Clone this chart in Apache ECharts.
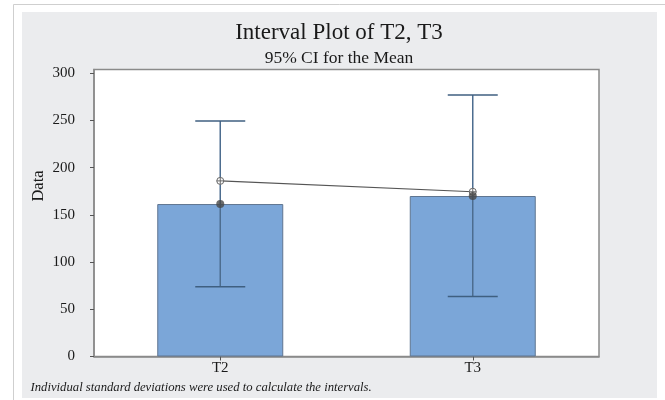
<!DOCTYPE html>
<html>
<head>
<meta charset="utf-8">
<script src="https://cdn.jsdelivr.net/npm/echarts@6/dist/echarts.min.js"></script>
<style>
html,body{margin:0;padding:0;background:#fff;}
#chart{width:665px;height:400px;}
</style>
</head>
<body>
<div id="chart"></div>
<script>
// ---- data ----
var categories = ['T2', 'T3'];
var means = [161.5, 170];
var ciLower = [74, 63.5];
var ciUpper = [249.5, 277];
var linkedValues = [186, 174.5];
var yTicks = [0, 50, 100, 150, 200, 250, 300];

var titleText = 'Interval Plot of T2, T3';
var subtitleText = '95% CI for the Mean';
var yName = 'Data';
var footnote = 'Individual standard deviations were used to calculate the intervals.';

var serif = '"Liberation Serif", "DejaVu Serif", serif';

var errData = categories.map(function (c, i) { return [i, ciLower[i], ciUpper[i]]; });
var linkData = categories.map(function (c, i) { return [i, linkedValues[i]]; });

var chart = echarts.init(document.getElementById('chart'), null, {renderer: 'canvas'});
chart.setOption({
  backgroundColor: '#ffffff',
  animation: false,
  title: {
    text: titleText,
    subtext: subtitleText,
    left: 334,
    textAlign: 'center',
    top: 16,
    itemGap: 5,
    textStyle: {fontFamily: serif, fontSize: 23, fontWeight: 'normal', color: '#1a1a1a'},
    subtextStyle: {fontFamily: serif, fontSize: 17.5, color: '#1a1a1a'}
  },
  graphic: [
    {type: 'line', z: -20, shape: {x1: 13.5, y1: 4.5, x2: 665, y2: 4.5}, style: {stroke: '#cfcfcf', lineWidth: 1}},
    {type: 'line', z: -20, shape: {x1: 13.5, y1: 4.5, x2: 13.5, y2: 400}, style: {stroke: '#cfcfcf', lineWidth: 1}},
    {type: 'rect', z: -20, shape: {x: 22, y: 12, width: 635, height: 386}, style: {fill: '#ebecee'}},
    {type: 'text', x: 39, y: 186, rotation: Math.PI / 2,
      style: {text: yName, font: '16.5px ' + serif, fill: '#1a1a1a', align: 'center', verticalAlign: 'middle'}},
    {type: 'text', x: 30.5, y: 387.5,
      style: {text: footnote, font: 'italic 12.7px ' + serif, fill: '#1a1a1a', align: 'left', verticalAlign: 'middle'}}
  ],
  grid: {
    left: 94, right: 66, top: 69.5, bottom: 43.5,
    show: true, backgroundColor: '#ffffff', borderColor: '#8a8a8a', borderWidth: 1.5,
    containLabel: false
  },
  xAxis: {
    type: 'category',
    data: categories,
    boundaryGap: true,
    axisLine: {show: true, lineStyle: {color: '#8a8a8a', width: 1.5}},
    axisTick: {show: true, alignWithLabel: true, length: 4, lineStyle: {color: '#555'}},
    axisLabel: {fontFamily: serif, fontSize: 15, color: '#1a1a1a', margin: 4}
  },
  yAxis: {
    type: 'value',
    min: 0,
    max: 304,
    interval: 50,
    splitLine: {show: false},
    axisLine: {show: true, lineStyle: {color: '#8a8a8a', width: 1.5}},
    axisTick: {show: true, length: 4, lineStyle: {color: '#555'}, customValues: yTicks},
    axisLabel: {fontFamily: serif, fontSize: 15, color: '#1a1a1a', margin: 19, customValues: yTicks}
  },
  series: [
    {
      type: 'bar',
      data: means,
      barWidth: 126,
      z: 2,
      itemStyle: {color: '#7ba6d8', borderColor: '#5f7590', borderWidth: 1}
    },
    {
      type: 'custom',
      data: errData,
      z: 3,
      renderItem: function (params, api) {
        var i = api.value(0);
        var lo = api.coord([i, api.value(1)]);
        var hi = api.coord([i, api.value(2)]);
        var half = 25;
        var st = {stroke: '#3f5f80', lineWidth: 1.5};
        return {
          type: 'group',
          children: [
            {type: 'line', shape: {x1: lo[0], y1: lo[1], x2: hi[0], y2: hi[1]}, style: {stroke: '#4d6d8f', lineWidth: 1.5}},
            {type: 'line', shape: {x1: hi[0] - half, y1: hi[1], x2: hi[0] + half, y2: hi[1]}, style: st},
            {type: 'line', shape: {x1: lo[0] - half, y1: lo[1], x2: lo[0] + half, y2: lo[1]}, style: st}
          ]
        };
      }
    },
    {
      type: 'line',
      data: linkedValues,
      z: 4,
      symbol: 'none',
      lineStyle: {color: '#555555', width: 1.2}
    },
    {
      type: 'custom',
      data: linkData,
      z: 5,
      renderItem: function (params, api) {
        var p = api.coord([api.value(0), api.value(1)]);
        var r = 3.5;
        var st = {stroke: '#666666', lineWidth: 1, fill: null};
        return {
          type: 'group',
          children: [
            {type: 'circle', shape: {cx: p[0], cy: p[1], r: r}, style: {fill: '#ffffff', stroke: '#666666', lineWidth: 1}},
            {type: 'line', shape: {x1: p[0] - r, y1: p[1], x2: p[0] + r, y2: p[1]}, style: st},
            {type: 'line', shape: {x1: p[0], y1: p[1] - r, x2: p[0], y2: p[1] + r}, style: st}
          ]
        };
      }
    },
    {
      type: 'scatter',
      data: means,
      z: 6,
      symbol: 'circle',
      symbolSize: 8,
      itemStyle: {color: '#474747'}
    }
  ]
});
</script>
</body>
</html>
